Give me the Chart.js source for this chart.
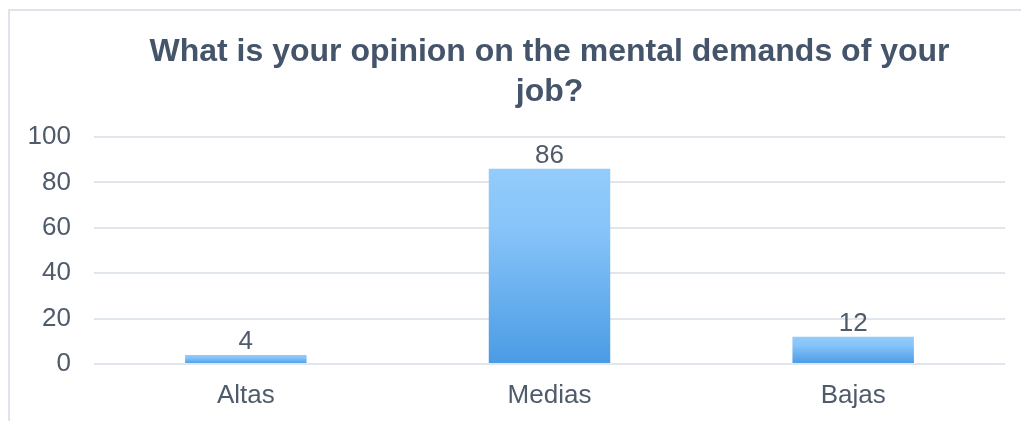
<!DOCTYPE html>
<html>
<head>
<meta charset="utf-8">
<script src="https://cdn.jsdelivr.net/npm/chart.js@4.4.0/dist/chart.umd.min.js"></script>
<style>
  html, body { margin: 0; padding: 0; background: #ffffff; }
  #wrap { position: relative; width: 1021px; height: 421px; overflow: hidden; }
  #frame { position: absolute; left: 8px; top: 9px; width: 1100px; height: 500px;
           border-left: 2px solid #dfe4ec; border-top: 2px solid #dfe4ec; }
  canvas { position: absolute; left: 0; top: 0; }
</style>
</head>
<body>
<div id="wrap">
  <div id="frame"></div>
  <canvas id="c" width="1021" height="421"></canvas>
</div>
<script>
const categories = ["Altas", "Medias", "Bajas"];
const values = [4, 86, 12];
const yTicks = [0, 20, 40, 60, 80, 100];
const titleLines = ["What is your opinion on the mental demands of your", "job?"];

const textColor = "#4f5b6b";
const titleColor = "#44546a";
const fontFamily = "'Liberation Sans', Arial, Helvetica, sans-serif";

const valueLabels = {
  id: "valueLabels",
  afterDatasetsDraw(chart) {
    const ctx = chart.ctx;
    const meta = chart.getDatasetMeta(0);
    ctx.save();
    ctx.font = "26px " + fontFamily;
    ctx.fillStyle = textColor;
    ctx.textAlign = "center";
    ctx.textBaseline = "alphabetic";
    meta.data.forEach((bar, i) => {
      ctx.fillText(String(chart.data.datasets[0].data[i]), bar.x, bar.y - 6);
    });
    ctx.restore();
  }
};

const ctx = document.getElementById("c").getContext("2d");
new Chart(ctx, {
  type: "bar",
  data: {
    labels: categories,
    datasets: [{
      data: values,
      backgroundColor: (c) => {
        const chart = c.chart;
        const ys = chart.scales && chart.scales.y;
        if (!chart.chartArea || !ys || c.raw === undefined) return "#6fb3f2";
        const top = ys.getPixelForValue(c.raw);
        const bottom = ys.getPixelForValue(0);
        const g = chart.ctx.createLinearGradient(0, top, 0, bottom);
        g.addColorStop(0, "#93ccfc");
        g.addColorStop(0.3, "#88c4f9");
        g.addColorStop(1, "#4a9be4");
        return g;
      },
      borderWidth: 0,
      barPercentage: 0.8,
      categoryPercentage: 0.5
    }]
  },
  options: {
    responsive: false,
    animation: false,
    devicePixelRatio: 1,
    layout: { padding: { left: 0, right: 16, top: 0, bottom: 0 } },
    plugins: {
      legend: { display: false },
      tooltip: { enabled: false },
      title: {
        display: true,
        fullSize: false,
        text: titleLines,
        color: titleColor,
        font: { family: fontFamily, size: 32, weight: "bold", lineHeight: 1.25 },
        padding: { top: 32, bottom: 25 }
      }
    },
    scales: {
      x: {
        grid: { display: false, drawTicks: false },
        border: { display: false },
        afterFit: (scale) => { scale.height = 57; },
        ticks: { color: textColor, font: { family: fontFamily, size: 26 }, padding: 16 }
      },
      y: {
        min: 0,
        max: 100,
        afterBuildTicks: (scale) => { scale.ticks = yTicks.map(v => ({ value: v })); },
        afterFit: (scale) => { scale.width = 94; },
        grid: { color: "#e1e5ec", lineWidth: 2, drawTicks: false },
        border: { display: false },
        ticks: { color: textColor, font: { family: fontFamily, size: 26 }, padding: 23 }
      }
    }
  },
  plugins: [valueLabels]
});
</script>
</body>
</html>
